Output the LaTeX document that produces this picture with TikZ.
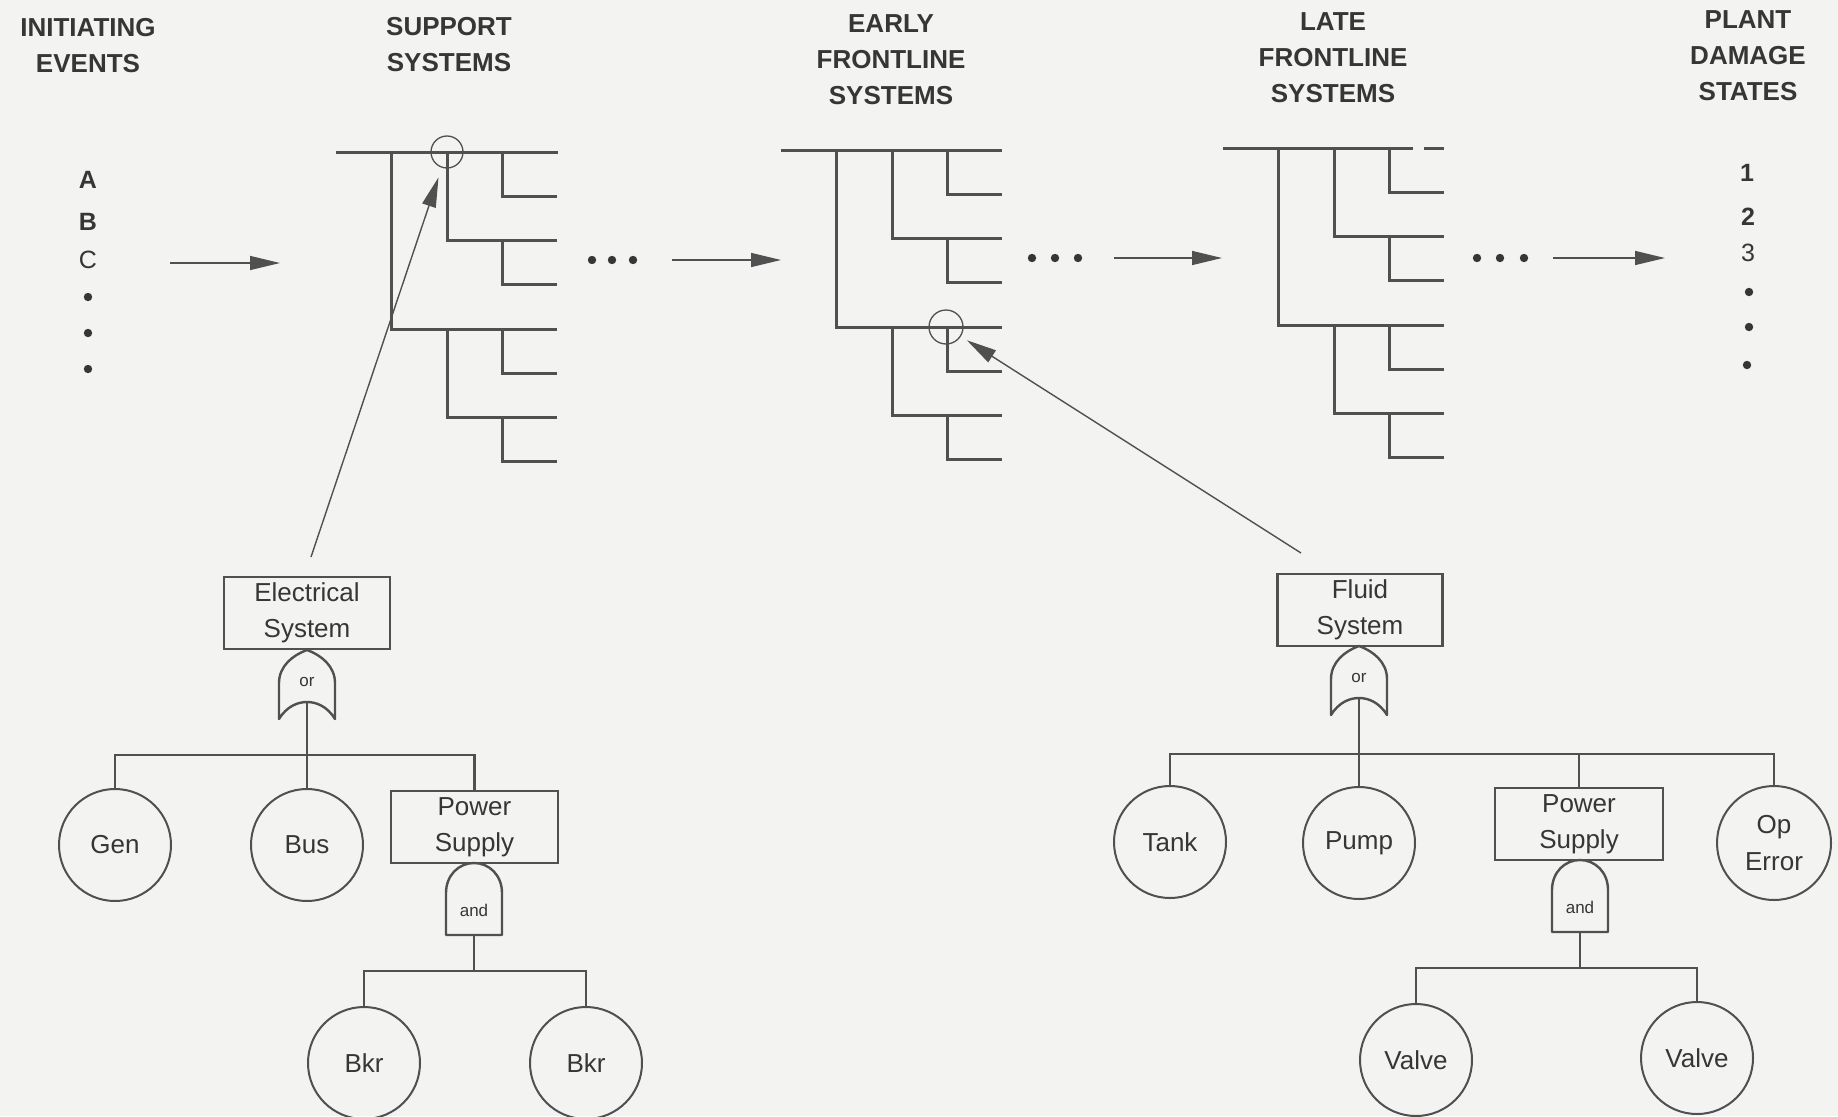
\documentclass[tikz,border=0pt]{standalone}
\usepackage{fontspec}
\setmainfont{Liberation Sans}
\usetikzlibrary{arrows.meta}
\definecolor{paper}{HTML}{F3F3F1}
\definecolor{ink}{HTML}{363636}
\definecolor{linegray}{HTML}{505050}

\begin{document}
\begin{tikzpicture}[x=1pt,y=-1pt,
  treeline/.style={draw=linegray, line width=3pt},
  wire/.style={draw=linegray, line width=2.2pt},
  gateline/.style={draw=linegray, line width=2.4pt, line join=round},
  pointer/.style={draw=linegray, line width=1.4pt, -{Triangle[length=30pt,width=14pt]}},
  header/.style={font=\fontsize{26}{36}\selectfont\bfseries, text=ink, align=center, inner sep=0pt},
  tag/.style={font=\fontsize{25}{30}\selectfont\bfseries, text=ink, inner sep=0pt},
  tagthin/.style={font=\fontsize{25}{30}\selectfont, text=ink, inner sep=0pt},
  fbox/.style={draw=linegray, line width=2.4pt, rectangle, minimum width=166pt, minimum height=72pt,
    inner sep=0pt, align=center, text=ink, font=\fontsize{26}{36}\selectfont},
  event/.style={draw=linegray, line width=2pt, circle, minimum size=112pt, inner sep=0pt,
    align=center, text=ink, font=\fontsize{26}{37}\selectfont},
  ring/.style={draw=linegray, line width=1.3pt, circle, minimum size=32pt, inner sep=0pt},
  gatelabel/.style={text=ink, inner sep=0pt, font=\fontsize{17}{17}\selectfont},
  % branching part of an event tree (top line drawn separately)
  eventtree/.pic={
    \draw[treeline] (55,0) |- (221,177);
    \draw[treeline] (111,0) |- (221,88);
    \draw[treeline] (166,0) |- (221,44);
    \draw[treeline] (166,88) |- (221,132);
    \draw[treeline] (111,177) |- (221,265);
    \draw[treeline] (166,177) |- (221,221);
    \draw[treeline] (166,265) |- (221,309);
  },
  % OR gate, origin at its top point
  orgate/.pic={
    \draw[gateline] (-28,69) -- (-28,33) .. controls (-28,16) and (-14,5) .. (0,0)
      .. controls (14,5) and (28,16) .. (28,33) -- (28,69)
      .. controls (20,56) and (9,52) .. (0,52) .. controls (-9,52) and (-20,56) .. (-28,69) -- cycle;
    \coordinate (-in) at (0,52);
    \node[gatelabel] (-lbl) at (0,32) {or};
  },
  % AND gate, origin at its top point
  andgate/.pic={
    \draw[gateline] (-28,72) -- (-28,30) .. controls (-28,12) and (-15,0) .. (0,0)
      .. controls (15,0) and (28,12) .. (28,30) -- (28,72) -- cycle;
    \coordinate (-out) at (0,72);
    \node[gatelabel] (-lbl) at (0,47) {and};
  }
]
\useasboundingbox (0,0) rectangle (1838,1116);
\fill[paper] (0,0) rectangle (1838,1116);

% column headings
\node[header] (hInit)  at (88,46)   {INITIATING\\EVENTS};
\node[header] (hSupp)  at (449,45)  {SUPPORT\\SYSTEMS};
\node[header] (hEarly) at (891,60)  {EARLY\\FRONTLINE\\SYSTEMS};
\node[header] (hLate)  at (1333,58) {LATE\\FRONTLINE\\SYSTEMS};
\node[header] (hPlant) at (1748,56) {PLANT\\DAMAGE\\STATES};

% initiating events
\node[tag] (evA) at (88,180) {A};
\node[tag] (evB) at (88,222) {B};
\node[tagthin] (evC) at (88,260) {C};
\fill[ink] (88,297) circle[radius=4.2];
\fill[ink] (88,333) circle[radius=4.2];
\fill[ink] (88,369) circle[radius=4.2];

% plant damage states
\node[tag] (pd1) at (1747,173) {1};
\node[tag] (pd2) at (1748,217) {2};
\node[tagthin] (pd3) at (1748,253) {3};
\fill[ink] (1749,292) circle[radius=4.2];
\fill[ink] (1749,327) circle[radius=4.2];
\fill[ink] (1747,365) circle[radius=4.2];

% event trees
\draw[treeline] (336,152) -- (558,152);
\pic at (336,152) {eventtree};
\draw[treeline] (781,150) -- (1002,150);
\pic at (781,150) {eventtree};
\draw[treeline] (1223,148) -- (1413,148);
\draw[treeline] (1424,148) -- (1444,148);
\pic at (1223,148) {eventtree};

% continuation dots
\foreach \x in {592,612,633} \fill[ink] (\x,260) circle[radius=4.2];
\foreach \x in {1032,1055,1078} \fill[ink] (\x,258) circle[radius=4.2];
\foreach \x in {1477,1500,1524} \fill[ink] (\x,258) circle[radius=4.2];

% flow arrows between stages
\coordinate (f1s) at (170,263);  \coordinate (f1e) at (280,263);
\coordinate (f2s) at (672,260);  \coordinate (f2e) at (781,260);
\coordinate (f3s) at (1114,258); \coordinate (f3e) at (1222,258);
\coordinate (f4s) at (1553,258); \coordinate (f4e) at (1665,258);
\draw[pointer] (f1s) -- (f1e);
\draw[pointer] (f2s) -- (f2e);
\draw[pointer] (f3s) -- (f3e);
\draw[pointer] (f4s) -- (f4e);

% marked branch points
\node[ring] (hl1) at (447,152) {};
\node[ring, minimum size=34pt] (hl2) at (946,327) {};

% electrical system fault tree
\node[fbox] (elec) at (307,613) {Electrical\\System};
\pic (org1) at (307,650) {orgate};
\node[event] (gen) at (115,845) {Gen};
\node[event] (bus) at (307,845) {Bus};
\node[fbox, minimum width=167pt] (ps1) at (474.5,827) {Power\\Supply};
\pic (and1) at (474,863) {andgate};
\node[event] (bkr1) at (364,1063) {Bkr};
\node[event] (bkr2) at (586,1063) {Bkr};
\coordinate (bar1) at (307,755);
\coordinate (bar2) at (474,971);
\draw[wire] (org1-in) -- (bus.north);
\draw[wire] (gen.north) |- (bar1) -| (ps1.north);
\draw[wire] (and1-out) -- (bar2);
\draw[wire] (bkr1.north) |- (bar2) -| (bkr2.north);

% fluid system fault tree
\node[fbox, minimum width=165pt] (fluid) at (1360,610) {Fluid\\System};
\pic (org2) at (1359,646) {orgate};
\node[event] (tank) at (1170,842) {Tank};
\node[event] (pump) at (1359,843) {Pump};
\node[fbox, minimum width=168pt] (ps2) at (1579,824) {Power\\Supply};
\node[event, minimum size=114pt] (operr) at (1774,843) {Op\\Error};
\pic (and2) at (1580,860) {andgate};
\node[event] (valve1) at (1416,1060) {Valve};
\node[event] (valve2) at (1697,1058) {Valve};
\coordinate (bar3) at (1359,754);
\coordinate (bar4) at (1580,968);
\draw[wire] (org2-in) -- (pump.north);
\draw[wire] (tank.north) |- (bar3) -| (operr.north);
\draw[wire] (ps2.north) -- (ps2.north |- bar3);
\draw[wire] (and2-out) -- (bar4);
\draw[wire] (valve1.north) |- (bar4) -| (valve2.north);

% links from fault trees to event tree branch points
\coordinate (elecLink) at (311,557);
\coordinate (fluidLink) at (1301,553);
\draw[pointer, shorten >=10pt] (elecLink) -- (hl1);
\draw[pointer, shorten >=7pt] (fluidLink) -- (hl2);
\end{tikzpicture}
\end{document}
